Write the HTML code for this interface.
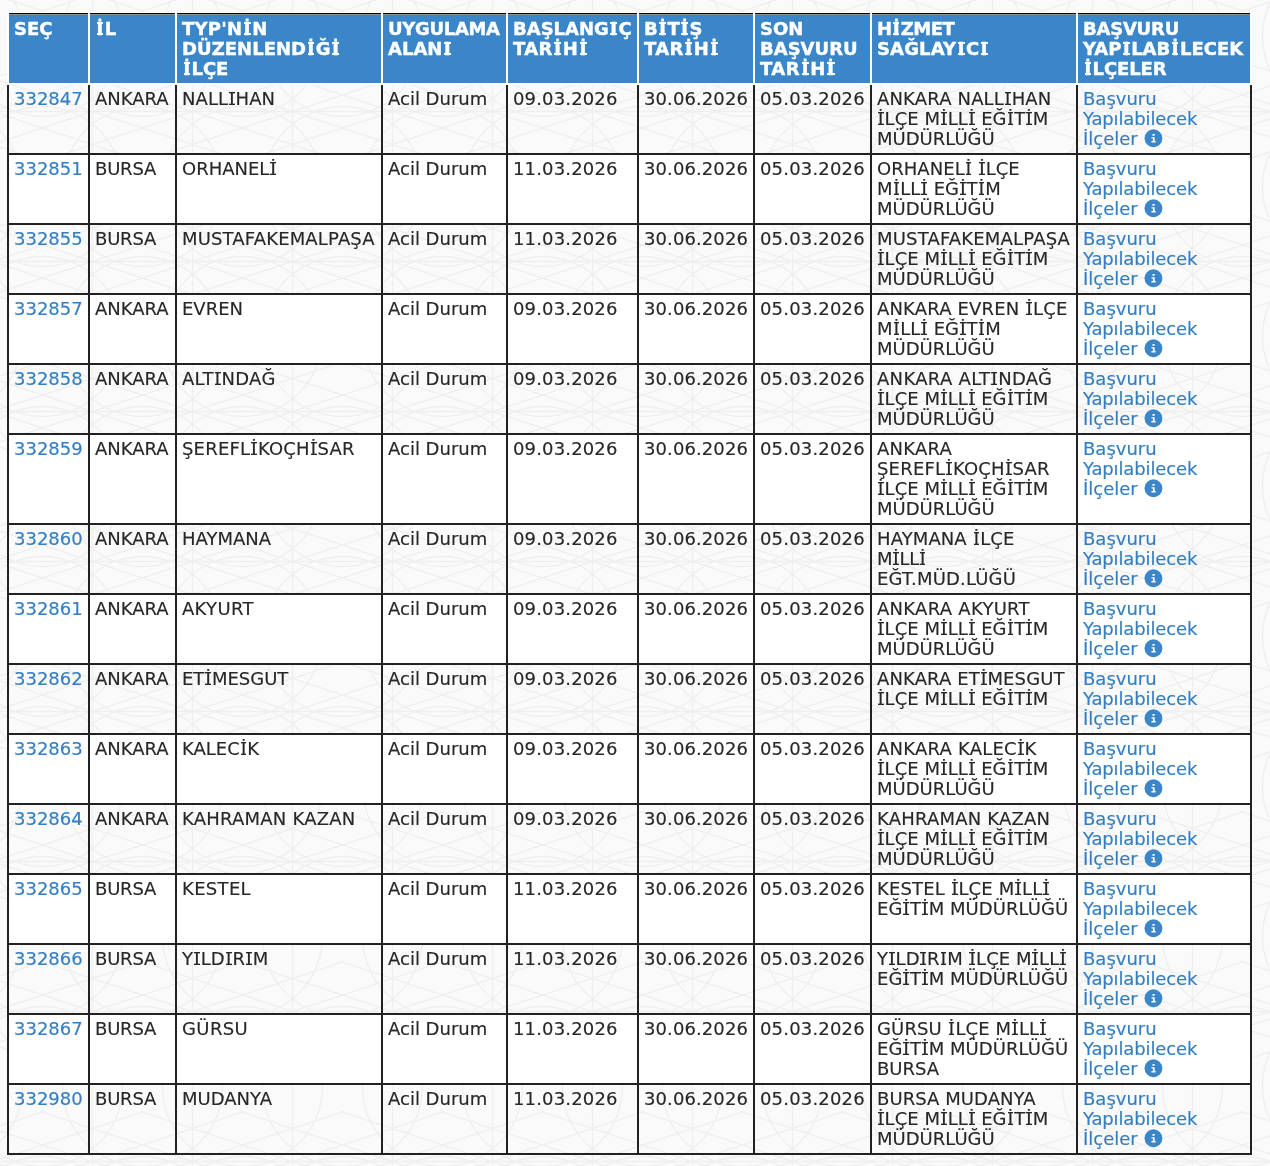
<!DOCTYPE html>
<html lang="tr">
<head>
<meta charset="utf-8">
<title>TYP Listesi</title>
<style>
html,body{margin:0;padding:0;}
body{width:1270px;height:1166px;overflow:hidden;background:#fafafa;position:relative;
 font-family:"DejaVu Sans","Liberation Sans",sans-serif;font-size:18px;line-height:20px;color:#272727;}
#bg{position:absolute;left:0;top:0;width:1270px;height:1166px;z-index:0;}
table.grid{position:absolute;left:7px;top:13px;width:1245px;table-layout:fixed;border-collapse:separate;border-spacing:0;z-index:1;}
th,td{box-sizing:border-box;padding:0;margin:0;vertical-align:top;text-align:left;white-space:nowrap;overflow:hidden;}
th{height:72px;background:linear-gradient(#000 0,#000 1px,#8a8f94 1px,#8a8f94 2px,#3b86c8 2px);color:#fff;font-weight:bold;-webkit-text-stroke:0.4px #fff;border-right:2px solid #fff;border-bottom:2px solid #fff;}
th:first-child{border-left:2px solid #fff;}
td{height:70px;-webkit-text-stroke:0.15px;border-right:2px solid #222;border-bottom:2px solid #222;}
td:first-child{border-left:2px solid #222;}
tr.tall td{height:90px;}
tr.even td{background:#fff;}
th div,td div{padding:4px 5px 4px 5px;}
th div{padding-top:6px;}
.topline{position:absolute;left:9px;top:12px;width:1243px;height:1px;background:#fff;z-index:1;}
a{color:#337ec2;text-decoration:none;}
.ico{display:inline-block;vertical-align:-2.2px;margin-left:0.7px;overflow:visible;}
i{font-style:normal;position:relative;display:inline-block;margin:0 1.1px;}
i:before,i:after{content:"";position:absolute;left:-0.2px;right:-0.2px;height:2px;}
i:before{top:3px;background:linear-gradient(#272727 0,#272727 1px,rgba(39,39,39,.35) 1px);}
i:after{top:14px;background:linear-gradient(rgba(39,39,39,.35) 0,rgba(39,39,39,.35) 1px,#272727 1px);}
th i{margin:0 1.5px;}
th i:before,th i:after{left:0;right:0;height:2px;background:#fff;}
th i:before{top:3px;}
th i:after{top:14px;}

</style>
</head>
<body>
<svg id="bg" width="1270" height="1166" viewBox="0 0 1270 1166" aria-hidden="true"><defs><pattern id="geo" width="100" height="150" patternUnits="userSpaceOnUse"><g fill="none" stroke="#efefef" stroke-width="1.4"><path d="M-259.4 -88.6L44.4 11.6"/><path d="M-259.4 11.6L44.4 -88.6"/><path d="M-259.4 61.4L44.4 161.6"/><path d="M-259.4 161.6L44.4 61.4"/><path d="M-159.4 -88.6L144.4 11.6"/><path d="M-159.4 11.6L144.4 -88.6"/><path d="M-159.4 61.4L144.4 161.6"/><path d="M-159.4 161.6L144.4 61.4"/><path d="M-59.4 -88.6L244.4 11.6"/><path d="M-59.4 11.6L244.4 -88.6"/><path d="M-59.4 61.4L244.4 161.6"/><path d="M-59.4 161.6L244.4 61.4"/><path d="M40.6 -88.6L344.4 11.6"/><path d="M40.6 11.6L344.4 -88.6"/><path d="M40.6 61.4L344.4 161.6"/><path d="M40.6 161.6L344.4 61.4"/><path d="M92.5 -5.0L92.5 155.0"/><path d="M-5.0 111.5L105.0 111.5"/><circle cx="-57.5" cy="36.5" r="80"/><circle cx="-57.5" cy="186.5" r="80"/><circle cx="42.5" cy="36.5" r="80"/><circle cx="42.5" cy="186.5" r="80"/><circle cx="142.5" cy="36.5" r="80"/><circle cx="142.5" cy="186.5" r="80"/></g></pattern></defs><rect width="1270" height="1166" fill="url(#geo)"/></svg>
<div class="topline"></div>
<table class="grid">
<colgroup><col style="width:83px"><col style="width:87px"><col style="width:206px"><col style="width:125px"><col style="width:131px"><col style="width:116px"><col style="width:117px"><col style="width:206px"><col style="width:174px"></colgroup>
<thead>
<tr><th class="h1"><div><span class="l">SEÇ</span></div></th><th class="h2"><div><span class="l"><i>İ</i>L</span></div></th><th class="h3"><div><span class="l" style="letter-spacing:0.24px">TYP'N<i>İ</i>N</span><br><span class="l" style="letter-spacing:0.04px">DÜZENLEND<i>İ</i>Ğ<i>İ</i></span><br><span class="l" style="letter-spacing:-0.14px"><i>İ</i>LÇE</span></div></th><th class="h4"><div><span class="l" style="letter-spacing:-0.32px">UYGULAMA</span><br><span class="l">ALAN<i>I</i></span></div></th><th class="h5"><div><span class="l">BAŞLANG<i>I</i>Ç</span><br><span class="l" style="letter-spacing:0.35px">TAR<i>İ</i>H<i>İ</i></span></div></th><th class="h6"><div><span class="l">B<i>İ</i>T<i>İ</i>Ş</span><br><span class="l" style="letter-spacing:0.36px">TAR<i>İ</i>H<i>İ</i></span></div></th><th class="h7"><div><span class="l">SON</span><br><span class="l">BAŞVURU</span><br><span class="l" style="letter-spacing:0.48px">TAR<i>İ</i>H<i>İ</i></span></div></th><th class="h8"><div><span class="l" style="letter-spacing:-0.49px">H<i>İ</i>ZMET</span><br><span class="l" style="letter-spacing:0.13px">SAĞLAY<i>I</i>C<i>I</i></span></div></th><th class="h9"><div><span class="l" style="letter-spacing:-0.23px">BAŞVURU</span><br><span class="l">YAP<i>I</i>LAB<i>İ</i>LECEK</span><br><span class="l" style="letter-spacing:-0.12px"><i>İ</i>LÇELER</span></div></th></tr>
</thead>
<tbody>
<tr class="odd"><td class="c1"><div><a href="#"><span class="l">332847</span></a></div></td><td class="c2"><div><span class="l">ANKARA</span></div></td><td class="c3"><div><span class="l" style="letter-spacing:0.05px">NALL<i>I</i>HAN</span></div></td><td class="c4"><div><span class="l">Acil Durum</span></div></td><td class="c5"><div><span class="l" style="letter-spacing:0.15px">09.03.2026</span></div></td><td class="c6"><div><span class="l" style="letter-spacing:0.09px">30.06.2026</span></div></td><td class="c7"><div><span class="l" style="letter-spacing:0.17px">05.03.2026</span></div></td><td class="c8"><div><span class="l" style="letter-spacing:0.16px">ANKARA NALL<i>I</i>HAN</span><br><span class="l" style="letter-spacing:0.06px"><i>İ</i>LÇE M<i>İ</i>LL<i>İ</i> EĞ<i>İ</i>T<i>İ</i>M</span><br><span class="l">MÜDÜRLÜĞÜ</span></div></td><td class="c9"><div><a href="#"><span class="l">Başvuru</span><br><span class="l" style="letter-spacing:-0.13px">Yapılabilecek</span><br><span class="l">İlçeler</span> <svg class="ico" viewBox="0 0 19 18" width="19" height="18" aria-hidden="true"><g transform="translate(0.45 0.2)"><circle cx="9" cy="9" r="8.93" fill="#3b86c8"/><path d="M8 4.7h2.2v1.8H8z M7.1 8.1h3.1v3.8h1v1.5H7v-1.5h1.5V9.4H7.1z" fill="#fff"/></g></svg></a></div></td></tr>
<tr class="even"><td class="c1"><div><a href="#"><span class="l">332851</span></a></div></td><td class="c2"><div><span class="l" style="letter-spacing:-0.21px">BURSA</span></div></td><td class="c3"><div><span class="l">ORHANEL<i>İ</i></span></div></td><td class="c4"><div><span class="l">Acil Durum</span></div></td><td class="c5"><div><span class="l" style="letter-spacing:0.16px">11.03.2026</span></div></td><td class="c6"><div><span class="l" style="letter-spacing:0.09px">30.06.2026</span></div></td><td class="c7"><div><span class="l" style="letter-spacing:0.17px">05.03.2026</span></div></td><td class="c8"><div><span class="l" style="letter-spacing:0.05px">ORHANEL<i>İ</i> <i>İ</i>LÇE</span><br><span class="l" style="letter-spacing:0.05px">M<i>İ</i>LL<i>İ</i> EĞ<i>İ</i>T<i>İ</i>M</span><br><span class="l">MÜDÜRLÜĞÜ</span></div></td><td class="c9"><div><a href="#"><span class="l">Başvuru</span><br><span class="l" style="letter-spacing:-0.13px">Yapılabilecek</span><br><span class="l">İlçeler</span> <svg class="ico" viewBox="0 0 19 18" width="19" height="18" aria-hidden="true"><g transform="translate(0.45 0.2)"><circle cx="9" cy="9" r="8.93" fill="#3b86c8"/><path d="M8 4.7h2.2v1.8H8z M7.1 8.1h3.1v3.8h1v1.5H7v-1.5h1.5V9.4H7.1z" fill="#fff"/></g></svg></a></div></td></tr>
<tr class="odd"><td class="c1"><div><a href="#"><span class="l">332855</span></a></div></td><td class="c2"><div><span class="l" style="letter-spacing:-0.21px">BURSA</span></div></td><td class="c3"><div><span class="l" style="letter-spacing:0.16px">MUSTAFAKEMALPAŞA</span></div></td><td class="c4"><div><span class="l">Acil Durum</span></div></td><td class="c5"><div><span class="l" style="letter-spacing:0.16px">11.03.2026</span></div></td><td class="c6"><div><span class="l" style="letter-spacing:0.09px">30.06.2026</span></div></td><td class="c7"><div><span class="l" style="letter-spacing:0.17px">05.03.2026</span></div></td><td class="c8"><div><span class="l" style="letter-spacing:0.18px">MUSTAFAKEMALPAŞA</span><br><span class="l" style="letter-spacing:0.06px"><i>İ</i>LÇE M<i>İ</i>LL<i>İ</i> EĞ<i>İ</i>T<i>İ</i>M</span><br><span class="l">MÜDÜRLÜĞÜ</span></div></td><td class="c9"><div><a href="#"><span class="l">Başvuru</span><br><span class="l" style="letter-spacing:-0.13px">Yapılabilecek</span><br><span class="l">İlçeler</span> <svg class="ico" viewBox="0 0 19 18" width="19" height="18" aria-hidden="true"><g transform="translate(0.45 0.2)"><circle cx="9" cy="9" r="8.93" fill="#3b86c8"/><path d="M8 4.7h2.2v1.8H8z M7.1 8.1h3.1v3.8h1v1.5H7v-1.5h1.5V9.4H7.1z" fill="#fff"/></g></svg></a></div></td></tr>
<tr class="even"><td class="c1"><div><a href="#"><span class="l">332857</span></a></div></td><td class="c2"><div><span class="l">ANKARA</span></div></td><td class="c3"><div><span class="l">EVREN</span></div></td><td class="c4"><div><span class="l">Acil Durum</span></div></td><td class="c5"><div><span class="l" style="letter-spacing:0.15px">09.03.2026</span></div></td><td class="c6"><div><span class="l" style="letter-spacing:0.09px">30.06.2026</span></div></td><td class="c7"><div><span class="l" style="letter-spacing:0.17px">05.03.2026</span></div></td><td class="c8"><div><span class="l" style="letter-spacing:0.17px">ANKARA EVREN <i>İ</i>LÇE</span><br><span class="l" style="letter-spacing:0.05px">M<i>İ</i>LL<i>İ</i> EĞ<i>İ</i>T<i>İ</i>M</span><br><span class="l">MÜDÜRLÜĞÜ</span></div></td><td class="c9"><div><a href="#"><span class="l">Başvuru</span><br><span class="l" style="letter-spacing:-0.13px">Yapılabilecek</span><br><span class="l">İlçeler</span> <svg class="ico" viewBox="0 0 19 18" width="19" height="18" aria-hidden="true"><g transform="translate(0.45 0.2)"><circle cx="9" cy="9" r="8.93" fill="#3b86c8"/><path d="M8 4.7h2.2v1.8H8z M7.1 8.1h3.1v3.8h1v1.5H7v-1.5h1.5V9.4H7.1z" fill="#fff"/></g></svg></a></div></td></tr>
<tr class="odd"><td class="c1"><div><a href="#"><span class="l">332858</span></a></div></td><td class="c2"><div><span class="l">ANKARA</span></div></td><td class="c3"><div><span class="l" style="letter-spacing:0.29px">ALT<i>I</i>NDAĞ</span></div></td><td class="c4"><div><span class="l">Acil Durum</span></div></td><td class="c5"><div><span class="l" style="letter-spacing:0.15px">09.03.2026</span></div></td><td class="c6"><div><span class="l" style="letter-spacing:0.09px">30.06.2026</span></div></td><td class="c7"><div><span class="l" style="letter-spacing:0.17px">05.03.2026</span></div></td><td class="c8"><div><span class="l" style="letter-spacing:0.31px">ANKARA ALT<i>I</i>NDAĞ</span><br><span class="l" style="letter-spacing:0.06px"><i>İ</i>LÇE M<i>İ</i>LL<i>İ</i> EĞ<i>İ</i>T<i>İ</i>M</span><br><span class="l">MÜDÜRLÜĞÜ</span></div></td><td class="c9"><div><a href="#"><span class="l">Başvuru</span><br><span class="l" style="letter-spacing:-0.13px">Yapılabilecek</span><br><span class="l">İlçeler</span> <svg class="ico" viewBox="0 0 19 18" width="19" height="18" aria-hidden="true"><g transform="translate(0.45 0.2)"><circle cx="9" cy="9" r="8.93" fill="#3b86c8"/><path d="M8 4.7h2.2v1.8H8z M7.1 8.1h3.1v3.8h1v1.5H7v-1.5h1.5V9.4H7.1z" fill="#fff"/></g></svg></a></div></td></tr>
<tr class="even tall"><td class="c1"><div><a href="#"><span class="l">332859</span></a></div></td><td class="c2"><div><span class="l">ANKARA</span></div></td><td class="c3"><div><span class="l" style="letter-spacing:0.19px">ŞEREFL<i>İ</i>KOÇH<i>İ</i>SAR</span></div></td><td class="c4"><div><span class="l">Acil Durum</span></div></td><td class="c5"><div><span class="l" style="letter-spacing:0.15px">09.03.2026</span></div></td><td class="c6"><div><span class="l" style="letter-spacing:0.09px">30.06.2026</span></div></td><td class="c7"><div><span class="l" style="letter-spacing:0.17px">05.03.2026</span></div></td><td class="c8"><div><span class="l" style="letter-spacing:0.23px">ANKARA</span><br><span class="l" style="letter-spacing:0.19px">ŞEREFL<i>İ</i>KOÇH<i>İ</i>SAR</span><br><span class="l" style="letter-spacing:0.06px"><i>İ</i>LÇE M<i>İ</i>LL<i>İ</i> EĞ<i>İ</i>T<i>İ</i>M</span><br><span class="l">MÜDÜRLÜĞÜ</span></div></td><td class="c9"><div><a href="#"><span class="l">Başvuru</span><br><span class="l" style="letter-spacing:-0.13px">Yapılabilecek</span><br><span class="l">İlçeler</span> <svg class="ico" viewBox="0 0 19 18" width="19" height="18" aria-hidden="true"><g transform="translate(0.45 0.2)"><circle cx="9" cy="9" r="8.93" fill="#3b86c8"/><path d="M8 4.7h2.2v1.8H8z M7.1 8.1h3.1v3.8h1v1.5H7v-1.5h1.5V9.4H7.1z" fill="#fff"/></g></svg></a></div></td></tr>
<tr class="odd"><td class="c1"><div><a href="#"><span class="l">332860</span></a></div></td><td class="c2"><div><span class="l">ANKARA</span></div></td><td class="c3"><div><span class="l">HAYMANA</span></div></td><td class="c4"><div><span class="l">Acil Durum</span></div></td><td class="c5"><div><span class="l" style="letter-spacing:0.15px">09.03.2026</span></div></td><td class="c6"><div><span class="l" style="letter-spacing:0.09px">30.06.2026</span></div></td><td class="c7"><div><span class="l" style="letter-spacing:0.17px">05.03.2026</span></div></td><td class="c8"><div><span class="l" style="letter-spacing:0.10px">HAYMANA <i>İ</i>LÇE</span><br><span class="l" style="letter-spacing:-0.28px">M<i>İ</i>LL<i>İ</i></span><br><span class="l" style="letter-spacing:0.17px">EĞT.MÜD.LÜĞÜ</span></div></td><td class="c9"><div><a href="#"><span class="l">Başvuru</span><br><span class="l" style="letter-spacing:-0.13px">Yapılabilecek</span><br><span class="l">İlçeler</span> <svg class="ico" viewBox="0 0 19 18" width="19" height="18" aria-hidden="true"><g transform="translate(0.45 0.2)"><circle cx="9" cy="9" r="8.93" fill="#3b86c8"/><path d="M8 4.7h2.2v1.8H8z M7.1 8.1h3.1v3.8h1v1.5H7v-1.5h1.5V9.4H7.1z" fill="#fff"/></g></svg></a></div></td></tr>
<tr class="even"><td class="c1"><div><a href="#"><span class="l">332861</span></a></div></td><td class="c2"><div><span class="l">ANKARA</span></div></td><td class="c3"><div><span class="l" style="letter-spacing:0.31px">AKYURT</span></div></td><td class="c4"><div><span class="l">Acil Durum</span></div></td><td class="c5"><div><span class="l" style="letter-spacing:0.15px">09.03.2026</span></div></td><td class="c6"><div><span class="l" style="letter-spacing:0.09px">30.06.2026</span></div></td><td class="c7"><div><span class="l" style="letter-spacing:0.17px">05.03.2026</span></div></td><td class="c8"><div><span class="l" style="letter-spacing:0.28px">ANKARA AKYURT</span><br><span class="l" style="letter-spacing:0.06px"><i>İ</i>LÇE M<i>İ</i>LL<i>İ</i> EĞ<i>İ</i>T<i>İ</i>M</span><br><span class="l">MÜDÜRLÜĞÜ</span></div></td><td class="c9"><div><a href="#"><span class="l">Başvuru</span><br><span class="l" style="letter-spacing:-0.13px">Yapılabilecek</span><br><span class="l">İlçeler</span> <svg class="ico" viewBox="0 0 19 18" width="19" height="18" aria-hidden="true"><g transform="translate(0.45 0.2)"><circle cx="9" cy="9" r="8.93" fill="#3b86c8"/><path d="M8 4.7h2.2v1.8H8z M7.1 8.1h3.1v3.8h1v1.5H7v-1.5h1.5V9.4H7.1z" fill="#fff"/></g></svg></a></div></td></tr>
<tr class="odd"><td class="c1"><div><a href="#"><span class="l">332862</span></a></div></td><td class="c2"><div><span class="l">ANKARA</span></div></td><td class="c3"><div><span class="l">ET<i>İ</i>MESGUT</span></div></td><td class="c4"><div><span class="l">Acil Durum</span></div></td><td class="c5"><div><span class="l" style="letter-spacing:0.15px">09.03.2026</span></div></td><td class="c6"><div><span class="l" style="letter-spacing:0.09px">30.06.2026</span></div></td><td class="c7"><div><span class="l" style="letter-spacing:0.17px">05.03.2026</span></div></td><td class="c8"><div><span class="l" style="letter-spacing:0.12px">ANKARA ET<i>İ</i>MESGUT</span><br><span class="l" style="letter-spacing:0.06px"><i>İ</i>LÇE M<i>İ</i>LL<i>İ</i> EĞ<i>İ</i>T<i>İ</i>M</span></div></td><td class="c9"><div><a href="#"><span class="l">Başvuru</span><br><span class="l" style="letter-spacing:-0.13px">Yapılabilecek</span><br><span class="l">İlçeler</span> <svg class="ico" viewBox="0 0 19 18" width="19" height="18" aria-hidden="true"><g transform="translate(0.45 0.2)"><circle cx="9" cy="9" r="8.93" fill="#3b86c8"/><path d="M8 4.7h2.2v1.8H8z M7.1 8.1h3.1v3.8h1v1.5H7v-1.5h1.5V9.4H7.1z" fill="#fff"/></g></svg></a></div></td></tr>
<tr class="even"><td class="c1"><div><a href="#"><span class="l">332863</span></a></div></td><td class="c2"><div><span class="l">ANKARA</span></div></td><td class="c3"><div><span class="l">KALEC<i>İ</i>K</span></div></td><td class="c4"><div><span class="l">Acil Durum</span></div></td><td class="c5"><div><span class="l" style="letter-spacing:0.15px">09.03.2026</span></div></td><td class="c6"><div><span class="l" style="letter-spacing:0.09px">30.06.2026</span></div></td><td class="c7"><div><span class="l" style="letter-spacing:0.17px">05.03.2026</span></div></td><td class="c8"><div><span class="l" style="letter-spacing:0.22px">ANKARA KALEC<i>İ</i>K</span><br><span class="l" style="letter-spacing:0.06px"><i>İ</i>LÇE M<i>İ</i>LL<i>İ</i> EĞ<i>İ</i>T<i>İ</i>M</span><br><span class="l">MÜDÜRLÜĞÜ</span></div></td><td class="c9"><div><a href="#"><span class="l">Başvuru</span><br><span class="l" style="letter-spacing:-0.13px">Yapılabilecek</span><br><span class="l">İlçeler</span> <svg class="ico" viewBox="0 0 19 18" width="19" height="18" aria-hidden="true"><g transform="translate(0.45 0.2)"><circle cx="9" cy="9" r="8.93" fill="#3b86c8"/><path d="M8 4.7h2.2v1.8H8z M7.1 8.1h3.1v3.8h1v1.5H7v-1.5h1.5V9.4H7.1z" fill="#fff"/></g></svg></a></div></td></tr>
<tr class="odd"><td class="c1"><div><a href="#"><span class="l">332864</span></a></div></td><td class="c2"><div><span class="l">ANKARA</span></div></td><td class="c3"><div><span class="l" style="letter-spacing:0.22px">KAHRAMAN KAZAN</span></div></td><td class="c4"><div><span class="l">Acil Durum</span></div></td><td class="c5"><div><span class="l" style="letter-spacing:0.15px">09.03.2026</span></div></td><td class="c6"><div><span class="l" style="letter-spacing:0.09px">30.06.2026</span></div></td><td class="c7"><div><span class="l" style="letter-spacing:0.17px">05.03.2026</span></div></td><td class="c8"><div><span class="l" style="letter-spacing:0.20px">KAHRAMAN KAZAN</span><br><span class="l" style="letter-spacing:0.06px"><i>İ</i>LÇE M<i>İ</i>LL<i>İ</i> EĞ<i>İ</i>T<i>İ</i>M</span><br><span class="l">MÜDÜRLÜĞÜ</span></div></td><td class="c9"><div><a href="#"><span class="l">Başvuru</span><br><span class="l" style="letter-spacing:-0.13px">Yapılabilecek</span><br><span class="l">İlçeler</span> <svg class="ico" viewBox="0 0 19 18" width="19" height="18" aria-hidden="true"><g transform="translate(0.45 0.2)"><circle cx="9" cy="9" r="8.93" fill="#3b86c8"/><path d="M8 4.7h2.2v1.8H8z M7.1 8.1h3.1v3.8h1v1.5H7v-1.5h1.5V9.4H7.1z" fill="#fff"/></g></svg></a></div></td></tr>
<tr class="even"><td class="c1"><div><a href="#"><span class="l">332865</span></a></div></td><td class="c2"><div><span class="l" style="letter-spacing:-0.21px">BURSA</span></div></td><td class="c3"><div><span class="l" style="letter-spacing:0.33px">KESTEL</span></div></td><td class="c4"><div><span class="l">Acil Durum</span></div></td><td class="c5"><div><span class="l" style="letter-spacing:0.16px">11.03.2026</span></div></td><td class="c6"><div><span class="l" style="letter-spacing:0.09px">30.06.2026</span></div></td><td class="c7"><div><span class="l" style="letter-spacing:0.17px">05.03.2026</span></div></td><td class="c8"><div><span class="l" style="letter-spacing:0.15px">KESTEL <i>İ</i>LÇE M<i>İ</i>LL<i>İ</i></span><br><span class="l" style="letter-spacing:0.06px">EĞ<i>İ</i>T<i>İ</i>M MÜDÜRLÜĞÜ</span></div></td><td class="c9"><div><a href="#"><span class="l">Başvuru</span><br><span class="l" style="letter-spacing:-0.13px">Yapılabilecek</span><br><span class="l">İlçeler</span> <svg class="ico" viewBox="0 0 19 18" width="19" height="18" aria-hidden="true"><g transform="translate(0.45 0.2)"><circle cx="9" cy="9" r="8.93" fill="#3b86c8"/><path d="M8 4.7h2.2v1.8H8z M7.1 8.1h3.1v3.8h1v1.5H7v-1.5h1.5V9.4H7.1z" fill="#fff"/></g></svg></a></div></td></tr>
<tr class="odd"><td class="c1"><div><a href="#"><span class="l">332866</span></a></div></td><td class="c2"><div><span class="l" style="letter-spacing:-0.21px">BURSA</span></div></td><td class="c3"><div><span class="l" style="letter-spacing:0.11px">Y<i>I</i>LD<i>I</i>R<i>I</i>M</span></div></td><td class="c4"><div><span class="l">Acil Durum</span></div></td><td class="c5"><div><span class="l" style="letter-spacing:0.16px">11.03.2026</span></div></td><td class="c6"><div><span class="l" style="letter-spacing:0.09px">30.06.2026</span></div></td><td class="c7"><div><span class="l" style="letter-spacing:0.17px">05.03.2026</span></div></td><td class="c8"><div><span class="l" style="letter-spacing:0.04px">Y<i>I</i>LD<i>I</i>R<i>I</i>M <i>İ</i>LÇE M<i>İ</i>LL<i>İ</i></span><br><span class="l" style="letter-spacing:0.06px">EĞ<i>İ</i>T<i>İ</i>M MÜDÜRLÜĞÜ</span></div></td><td class="c9"><div><a href="#"><span class="l">Başvuru</span><br><span class="l" style="letter-spacing:-0.13px">Yapılabilecek</span><br><span class="l">İlçeler</span> <svg class="ico" viewBox="0 0 19 18" width="19" height="18" aria-hidden="true"><g transform="translate(0.45 0.2)"><circle cx="9" cy="9" r="8.93" fill="#3b86c8"/><path d="M8 4.7h2.2v1.8H8z M7.1 8.1h3.1v3.8h1v1.5H7v-1.5h1.5V9.4H7.1z" fill="#fff"/></g></svg></a></div></td></tr>
<tr class="even"><td class="c1"><div><a href="#"><span class="l">332867</span></a></div></td><td class="c2"><div><span class="l" style="letter-spacing:-0.21px">BURSA</span></div></td><td class="c3"><div><span class="l" style="letter-spacing:0.39px">GÜRSU</span></div></td><td class="c4"><div><span class="l">Acil Durum</span></div></td><td class="c5"><div><span class="l" style="letter-spacing:0.16px">11.03.2026</span></div></td><td class="c6"><div><span class="l" style="letter-spacing:0.09px">30.06.2026</span></div></td><td class="c7"><div><span class="l" style="letter-spacing:0.17px">05.03.2026</span></div></td><td class="c8"><div><span class="l" style="letter-spacing:0.13px">GÜRSU <i>İ</i>LÇE M<i>İ</i>LL<i>İ</i></span><br><span class="l" style="letter-spacing:0.06px">EĞ<i>İ</i>T<i>İ</i>M MÜDÜRLÜĞÜ</span><br><span class="l">BURSA</span></div></td><td class="c9"><div><a href="#"><span class="l">Başvuru</span><br><span class="l" style="letter-spacing:-0.13px">Yapılabilecek</span><br><span class="l">İlçeler</span> <svg class="ico" viewBox="0 0 19 18" width="19" height="18" aria-hidden="true"><g transform="translate(0.45 0.2)"><circle cx="9" cy="9" r="8.93" fill="#3b86c8"/><path d="M8 4.7h2.2v1.8H8z M7.1 8.1h3.1v3.8h1v1.5H7v-1.5h1.5V9.4H7.1z" fill="#fff"/></g></svg></a></div></td></tr>
<tr class="odd"><td class="c1"><div><a href="#"><span class="l">332980</span></a></div></td><td class="c2"><div><span class="l" style="letter-spacing:-0.21px">BURSA</span></div></td><td class="c3"><div><span class="l">MUDANYA</span></div></td><td class="c4"><div><span class="l">Acil Durum</span></div></td><td class="c5"><div><span class="l" style="letter-spacing:0.16px">11.03.2026</span></div></td><td class="c6"><div><span class="l" style="letter-spacing:0.09px">30.06.2026</span></div></td><td class="c7"><div><span class="l" style="letter-spacing:0.17px">05.03.2026</span></div></td><td class="c8"><div><span class="l" style="letter-spacing:0.07px">BURSA MUDANYA</span><br><span class="l" style="letter-spacing:0.06px"><i>İ</i>LÇE M<i>İ</i>LL<i>İ</i> EĞ<i>İ</i>T<i>İ</i>M</span><br><span class="l">MÜDÜRLÜĞÜ</span></div></td><td class="c9"><div><a href="#"><span class="l">Başvuru</span><br><span class="l" style="letter-spacing:-0.13px">Yapılabilecek</span><br><span class="l">İlçeler</span> <svg class="ico" viewBox="0 0 19 18" width="19" height="18" aria-hidden="true"><g transform="translate(0.45 0.2)"><circle cx="9" cy="9" r="8.93" fill="#3b86c8"/><path d="M8 4.7h2.2v1.8H8z M7.1 8.1h3.1v3.8h1v1.5H7v-1.5h1.5V9.4H7.1z" fill="#fff"/></g></svg></a></div></td></tr>
</tbody>
</table>
</body>
</html>
